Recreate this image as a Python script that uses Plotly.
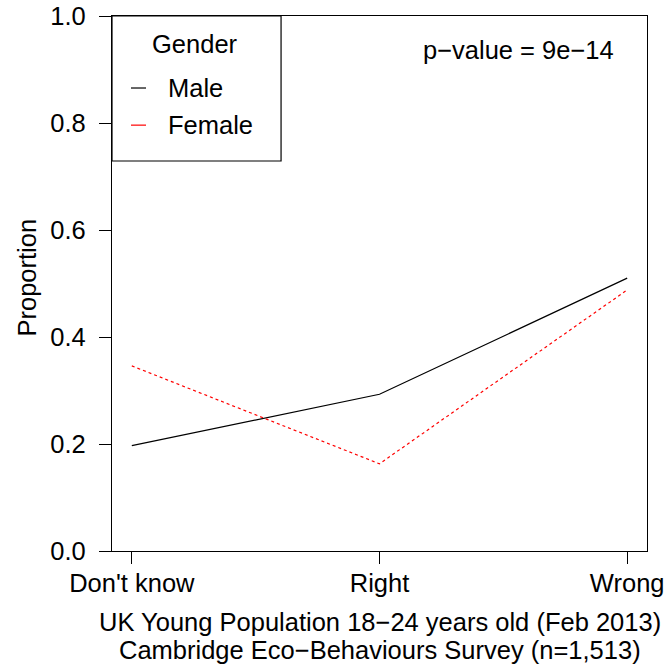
import plotly.graph_objects as go

categories = ["Don't know", "Right", "Wrong"]
x_pos = [1, 2, 3]
male = [0.197, 0.293, 0.510]
female = [0.346, 0.163, 0.488]
y_ticks = [0.0, 0.2, 0.4, 0.6, 0.8, 1.0]
y_ticklabels = ["0.0", "0.2", "0.4", "0.6", "0.8", "1.0"]

FONT = "Liberation Sans, Arial, Helvetica, sans-serif"
FS = 25.5

fig = go.Figure()
fig.add_trace(go.Scatter(x=x_pos, y=male, mode="lines", name="Male",
                         line=dict(color="black", width=1.2), showlegend=False))
fig.add_trace(go.Scatter(x=x_pos, y=female, mode="lines", name="Female",
                         line=dict(color="#ff0000", width=1.2, dash="3px,3px"), showlegend=False))

fig.update_layout(
    width=668, height=668,
    margin=dict(l=112, r=21, t=16, b=117, autoexpand=False),
    paper_bgcolor="white", plot_bgcolor="white",
    font=dict(family=FONT, size=FS, color="black"),
    xaxis=dict(range=[0.92, 3.08], tickvals=x_pos, ticktext=categories,
               showgrid=False, zeroline=False, showline=True, mirror=True,
               linecolor="black", linewidth=1.2, ticks="outside", ticklen=12,
               tickcolor="black", tickwidth=1, ticklabelstandoff=-3,
               automargin=False, tickfont=dict(size=FS)),
    yaxis=dict(range=[0, 1], tickvals=y_ticks, ticktext=y_ticklabels,
               showgrid=False, zeroline=False, showline=True, mirror=True,
               linecolor="black", linewidth=1.2, ticks="outside", ticklen=12,
               tickcolor="black", tickwidth=1, ticklabelstandoff=8,
               automargin=False, tickfont=dict(size=FS)),
)

# legend box
fig.add_shape(type="rect", xref="paper", yref="paper", x0=0, x1=0.316, y0=0.729, y1=1,
              line=dict(color="black", width=1.2), fillcolor="white")
fig.add_annotation(xref="paper", yref="paper", x=0.155, y=0.948, text="Gender",
                   showarrow=False, xanchor="center", yanchor="middle")
leg = [("Male", "black", 0.8654), ("Female", "#ff0000", 0.796)]
for name, col, yy in leg:
    fig.add_shape(type="line", xref="paper", yref="paper", x0=0.0355, x1=0.0636, y0=yy, y1=yy,
                  line=dict(color=col, width=1.2))
    fig.add_annotation(xref="paper", yref="paper", x=0.101, y=yy, text=name,
                       showarrow=False, xanchor="left", yanchor="middle")

fig.add_annotation(xref="paper", yref="paper", x=0.759, y=0.936, text="p\u2212value = 9e\u221214",
                   showarrow=False, xanchor="center", yanchor="middle")
fig.add_annotation(xref="paper", yref="paper", x=-0.158, y=0.512, text="Proportion",
                   textangle=-90, showarrow=False, xanchor="center", yanchor="middle")
fig.add_annotation(xref="paper", yref="paper", x=0.5, y=-0.1327,
                   text="UK Young Population 18\u221224 years old (Feb 2013)",
                   showarrow=False, xanchor="center", yanchor="middle")
fig.add_annotation(xref="paper", yref="paper", x=0.5, y=-0.185,
                   text="Cambridge Eco\u2212Behaviours Survey (n=1,513)",
                   showarrow=False, xanchor="center", yanchor="middle")

fig.write_html("out.html")
